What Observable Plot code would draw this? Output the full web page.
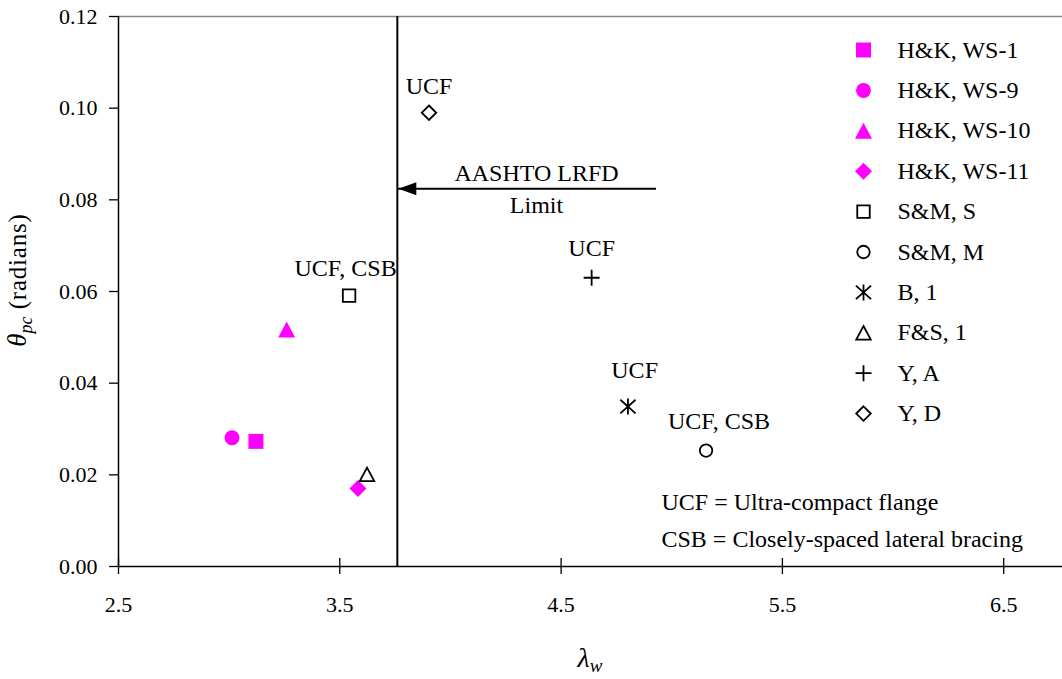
<!DOCTYPE html>
<html>
<head>
<meta charset="utf-8">
<script src="https://cdn.jsdelivr.net/npm/d3@7"></script>
<script src="https://cdn.jsdelivr.net/npm/@observablehq/plot@0.6"></script>
<style>
  html, body { margin: 0; padding: 0; background: #fff; }
  #chart { width: 1062px; height: 679px; }
  #chart svg text { font-family: "Liberation Serif", "Times New Roman", "DejaVu Serif", serif; }
</style>
</head>
<body>
<div id="chart"></div>
<script>
// ---- data ----
const seriesNames = ["H&K, WS-1", "H&K, WS-9", "H&K, WS-10", "H&K, WS-11", "S&M, S", "S&M, M", "B, 1", "F&S, 1", "Y, A", "Y, D"];
const lambdaW = [3.121, 3.013, 3.260, 3.582, 3.542, 5.155, 4.802, 3.623, 4.638, 3.903];
const thetaPc = [0.0273, 0.0281, 0.0517, 0.0170, 0.0591, 0.0253, 0.0349, 0.0201, 0.0630, 0.0990];
const xTicks = [2.5, 3.5, 4.5, 5.5, 6.5];
const yTicks = [0, 0.02, 0.04, 0.06, 0.08, 0.10, 0.12];
const limitLambda = 3.76;
const arrowFromX = 4.929;
const arrowY = 0.0824;
const arrowLabels = ["AASHTO LRFD", "Limit"];
const annotLabels = ["UCF, CSB", "UCF, CSB", "UCF", "UCF", "UCF"];
const annotSeries = [4, 5, 6, 8, 9];
const noteLines = ["UCF = Ultra-compact flange", "CSB = Closely-spaced lateral bracing"];

// ---- layout ----
const W = 1062, H = 679;
const mL = 118, mR = 0, mT = 16, mB = 113;
const pxPerUnit = 221.3;
const xDomain = [2.5, 2.5 + (W - mL - mR) / pxPerUnit];
const yDomain = [0, 0.12];
const xs = d3.scaleLinear(xDomain, [mL, W - mR]);
const ys = d3.scaleLinear(yDomain, [H - mB, mT]);
const MAG = "#FF00FF";
const FONT = "Liberation Serif, Times New Roman, DejaVu Serif, serif";

// ---- custom symbols ----
const sym = {
  sq: s => ({draw(c) { c.rect(-s / 2, -s / 2, s, s); }}),
  circ: d => ({draw(c) { c.moveTo(d / 2, 0); c.arc(0, 0, d / 2, 0, 2 * Math.PI); c.closePath(); }}),
  tri: (w, h) => ({draw(c) { c.moveTo(0, -h / 2); c.lineTo(w / 2, h / 2); c.lineTo(-w / 2, h / 2); c.closePath(); }}),
  dia: (w, h) => ({draw(c) { c.moveTo(0, -h / 2); c.lineTo(w / 2, 0); c.lineTo(0, h / 2); c.lineTo(-w / 2, 0); c.closePath(); }}),
  plus: a => ({draw(c) { c.moveTo(-a, 0); c.lineTo(a, 0); c.moveTo(0, -a); c.lineTo(0, a); }}),
  ast: a => ({draw(c) {
    c.moveTo(0, -a); c.lineTo(0, a);
    c.moveTo(-a * 0.95, -a * 0.85); c.lineTo(a * 0.95, a * 0.85);
    c.moveTo(-a * 0.95, a * 0.85); c.lineTo(a * 0.95, -a * 0.85);
  }}),
  head: (len, hw) => ({draw(c) { c.moveTo(1, 0); c.lineTo(len, -hw); c.lineTo(len, hw); c.closePath(); }})
};
const seriesStyle = [
  {symbol: sym.sq(15), fill: MAG, stroke: "none"},
  {symbol: sym.circ(15), fill: MAG, stroke: "none"},
  {symbol: sym.tri(17, 16), fill: MAG, stroke: "none"},
  {symbol: sym.dia(17, 17), fill: MAG, stroke: "none"},
  {symbol: sym.sq(12.5), fill: "none", stroke: "#000"},
  {symbol: sym.circ(12.5), fill: "none", stroke: "#000"},
  {symbol: sym.ast(8), fill: "none", stroke: "#000"},
  {symbol: sym.tri(14.5, 13.5), fill: "none", stroke: "#000"},
  {symbol: sym.plus(8), fill: "none", stroke: "#000"},
  {symbol: sym.dia(14.5, 14.5), fill: "none", stroke: "#000"}
];
// annotation offsets (px) relative to their point
const annotOffsets = [[-3.5, -27.4], [13, -29.4], [6.7, -36.4], [0, -29.7], [0, -26.7]];

// legend layout
const legSymX = xs.invert(863), legTextX = xs.invert(897);
const legY = i => ys.invert(49.5 + i * 40.4);

const marks = [];
// frame lines
marks.push(Plot.ruleY([yDomain[1]], {stroke: "#888", strokeWidth: 1.5}));
marks.push(Plot.ruleY([0], {stroke: "#000", strokeWidth: 1.5}));
marks.push(Plot.ruleX([xDomain[0]], {stroke: "#000", strokeWidth: 1.5}));
// ticks
marks.push(Plot.ruleY(yTicks, {y: d => d, x1: xDomain[0], x2: xDomain[0], insetLeft: -9, stroke: "#000", strokeWidth: 1.3}));
marks.push(Plot.ruleX(xTicks, {x: d => d, y1: 0, y2: 0, insetTop: -8, insetBottom: -8, stroke: "#000", strokeWidth: 1.3}));
// tick labels
marks.push(Plot.text(yTicks, {x: xDomain[0], y: d => d, text: d => d.toFixed(2), textAnchor: "end", dx: -21, fontSize: 22, fill: "#000", fontFamily: FONT}));
marks.push(Plot.text(xTicks, {x: d => d, y: 0, text: d => d.toFixed(1), dy: 38, fontSize: 22, fill: "#000", fontFamily: FONT}));
// limit line and arrow
marks.push(Plot.ruleX([limitLambda], {stroke: "#000", strokeWidth: 2}));
marks.push(Plot.link([0], {x1: arrowFromX, x2: limitLambda, y1: arrowY, y2: arrowY, stroke: "#000", strokeWidth: 2}));
marks.push(Plot.dot([0], {x: limitLambda, y: arrowY, symbol: sym.head(19, 6.5), fill: "#000", stroke: "none"}));
marks.push(Plot.text([arrowLabels[0]], {x: xs.invert(536), y: arrowY, dy: -16, text: d => d, fontSize: 24, fill: "#000", fontFamily: FONT}));
marks.push(Plot.text([arrowLabels[1]], {x: xs.invert(536), y: arrowY, dy: 16.7, text: d => d, fontSize: 24, fill: "#000", fontFamily: FONT}));
// data points
seriesNames.forEach((name, i) => {
  const st = seriesStyle[i];
  marks.push(Plot.dot([i], {x: j => lambdaW[j], y: j => thetaPc[j], symbol: st.symbol, fill: st.fill, stroke: st.stroke, strokeWidth: 1.8}));
});
// annotations
annotLabels.forEach((lab, k) => {
  const i = annotSeries[k];
  marks.push(Plot.text([i], {x: j => lambdaW[j], y: j => thetaPc[j], text: () => lab, dx: annotOffsets[k][0], dy: annotOffsets[k][1], fontSize: 24, fill: "#000", fontFamily: FONT}));
});
// notes
noteLines.forEach((line, k) => {
  marks.push(Plot.text([line], {x: xs.invert(661), y: ys.invert(502 + k * 36.6), text: d => d, textAnchor: "start", fontSize: 24, fill: "#000", fontFamily: FONT}));
});
// legend
seriesNames.forEach((name, i) => {
  const st = seriesStyle[i];
  marks.push(Plot.dot([i], {x: legSymX, y: j => legY(j), symbol: st.symbol, fill: st.fill, stroke: st.stroke, strokeWidth: 1.8}));
});
marks.push(Plot.text(seriesNames, {x: legTextX, y: (d, i) => legY(i), text: d => d, textAnchor: "start", fontSize: 24, fill: "#000", fontFamily: FONT}));

const svg = Plot.plot({
  width: W, height: H,
  marginLeft: mL, marginRight: mR, marginTop: mT, marginBottom: mB,
  x: {domain: xDomain, axis: null},
  y: {domain: yDomain, axis: null},
  style: {fontFamily: FONT, background: "#fff", color: "#000", overflow: "visible"},
  marks
});

// axis titles with sub-scripts
const s = d3.select(svg);
const yt = s.append("text")
  .attr("transform", "translate(22,280) rotate(-90)")
  .attr("text-anchor", "middle").attr("dy", "0.35em")
  .style("font-family", FONT).attr("fill", "#000");
yt.append("tspan").attr("font-style", "italic").attr("font-size", 27).text("θ");
yt.append("tspan").attr("font-style", "italic").attr("font-size", 18).attr("dy", 6).text("pc");
yt.append("tspan").attr("font-size", 25).attr("dy", -6).attr("letter-spacing", "0.8px").text(" (radians)");

const xt = s.append("text")
  .attr("x", 590).attr("y", 667)
  .attr("text-anchor", "middle")
  .style("font-family", FONT).attr("fill", "#000");
xt.append("tspan").attr("font-style", "italic").attr("font-size", 28).text("λ");
xt.append("tspan").attr("font-style", "italic").attr("font-size", 19).attr("dy", 5).text("w");

document.getElementById("chart").appendChild(svg);
</script>
</body>
</html>
